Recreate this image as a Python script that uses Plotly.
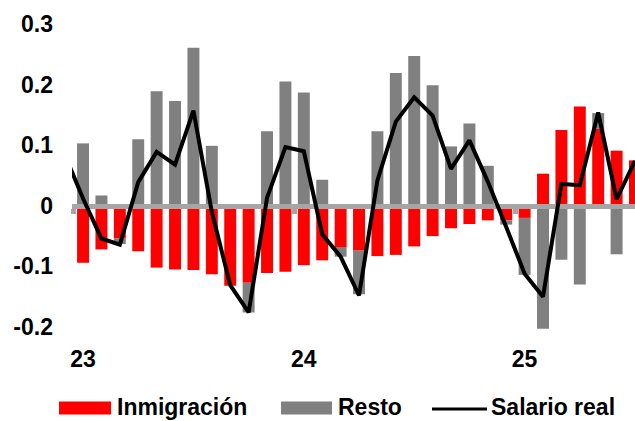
import plotly.graph_objects as go

# Contribuciones mensuales (ene-23 a jul-25)
inmigracion = [-0.094, -0.072, -0.054, -0.075, -0.102, -0.105, -0.106, -0.113,
               -0.132, -0.127, -0.111, -0.109, -0.098, -0.090, -0.068, -0.074,
               -0.083, -0.081, -0.067, -0.050, -0.037, -0.030, -0.024, -0.024,
               -0.020, 0.053, 0.125, 0.164, 0.127, 0.091, 0.075]
resto = [0.103, 0.017, -0.009, 0.110, 0.189, 0.173, 0.261, 0.099,
         0.000, -0.049, 0.123, 0.205, 0.187, 0.043, -0.016, -0.072,
         0.123, 0.219, 0.247, 0.199, 0.098, 0.136, 0.066, -0.007,
         -0.094, -0.203, -0.089, -0.130, 0.026, -0.080, 0.000]
# Salario real (dic-22 a jul-25)
salario_real = [0.085, 0.012, -0.054, -0.064, 0.039, 0.089, 0.068, 0.157,
                -0.010, -0.131, -0.176, 0.013, 0.097, 0.090, -0.047, -0.084,
                -0.148, 0.042, 0.139, 0.179, 0.149, 0.061, 0.108, 0.040,
                -0.035, -0.112, -0.150, 0.036, 0.034, 0.154, 0.011, 0.074]

anios = ["23", "24", "25"]
y_ticks = [-0.2, -0.1, 0, 0.1, 0.2, 0.3]
y_ticktext = ["-0.2", "-0.1", "0", "0.1", "0.2", "0.3"]

# positions on the monthly category axis (0 = ene-23)
x_bars = list(range(len(inmigracion)))
x_line = list(range(-1, len(salario_real) - 1))
x_anios = [12 * i for i in range(len(anios))]
x_cortes = [12 * i - 0.5 for i in range(len(anios))]

X_RANGE = [-0.6, 30.0]
Y_RANGE = [-0.2165, 0.3]

W, H = 635, 421
M_L, M_R, M_T, M_B = 72, 0, 24, 83.5

FONT = "Liberation Sans, Arial, sans-serif"
ROJO = "#ff0000"
GRIS = "#808080"
GRIS_EJE = "#a6a6a6"

fig = go.Figure()
fig.add_trace(go.Bar(x=x_bars, y=inmigracion, name="Inmigración",
                     marker=dict(color=ROJO, line=dict(width=0)),
                     xaxis="x", yaxis="y"))
fig.add_trace(go.Bar(x=x_bars, y=resto, name="Resto",
                     marker=dict(color=GRIS, line=dict(width=0)),
                     xaxis="x", yaxis="y"))
# the line lives in its own subplot (same domain) so it sits above the zero axis
fig.add_trace(go.Scatter(x=x_line, y=salario_real, name="Salario real",
                         mode="lines", line=dict(color="black", width=4),
                         xaxis="x2", yaxis="y2"))

zero_pos = (0 - Y_RANGE[0]) / (Y_RANGE[1] - Y_RANGE[0])
tick_font = dict(family=FONT, size=23, color="black", weight="bold")

fig.update_layout(
    width=W, height=H,
    margin=dict(l=M_L, r=M_R, t=M_T, b=M_B),
    paper_bgcolor="white", plot_bgcolor="rgba(0,0,0,0)",
    barmode="relative", bargap=0.35,
    showlegend=False,
    xaxis=dict(domain=[0, 1], range=X_RANGE, anchor="free", position=zero_pos,
               showline=True, linecolor=GRIS_EJE, linewidth=5,
               ticks="outside", tickvals=x_cortes, ticklen=5, tickwidth=5,
               tickcolor=GRIS_EJE, showticklabels=False,
               showgrid=False, zeroline=False, fixedrange=True),
    yaxis=dict(domain=[0, 1], range=Y_RANGE, anchor="x",
               tickvals=y_ticks, ticktext=y_ticktext, tickfont=tick_font,
               showline=False, showgrid=False, zeroline=False, ticks="",
               ticklabelstandoff=18, fixedrange=True),
    xaxis2=dict(domain=[0, 1], range=X_RANGE, anchor="y2",
                tickvals=x_anios, ticktext=anios, tickfont=tick_font,
                showline=False, showgrid=False, zeroline=False, ticks="",
                ticklabelstandoff=6, fixedrange=True),
    yaxis2=dict(domain=[0, 1], range=Y_RANGE, anchor="x2", visible=False,
                fixedrange=True),
)

# legend drawn below the plot
plot_w = W - M_L - M_R
plot_h = H - M_T - M_B


def px_x(px):
    return (px - M_L) / plot_w


def px_y(py):
    return (H - M_B - py) / plot_h


legend_items = [
    ("rect", ROJO, 59, 111, "Inmigración", 115),
    ("rect", GRIS, 281, 332, "Resto", 336),
    ("line", "black", 432, 487, "Salario real", 489),
]
shapes = []
annotations = []
for kind, color, x0, x1, label, tx in legend_items:
    if kind == "rect":
        shapes.append(dict(type="rect", xref="paper", yref="paper",
                           x0=px_x(x0), x1=px_x(x1), y0=px_y(415), y1=px_y(402),
                           fillcolor=color, line=dict(width=0)))
    else:
        shapes.append(dict(type="line", xref="paper", yref="paper",
                           x0=px_x(x0), x1=px_x(x1), y0=px_y(409.5), y1=px_y(409.5),
                           line=dict(color=color, width=3)))
    annotations.append(dict(text=label, xref="paper", yref="paper",
                            x=px_x(tx), y=px_y(407.5), xanchor="left",
                            yanchor="middle", showarrow=False,
                            font=dict(family=FONT, size=23, color="black",
                                      weight="bold")))
fig.update_layout(shapes=shapes, annotations=annotations)

fig.write_html("out.html")
